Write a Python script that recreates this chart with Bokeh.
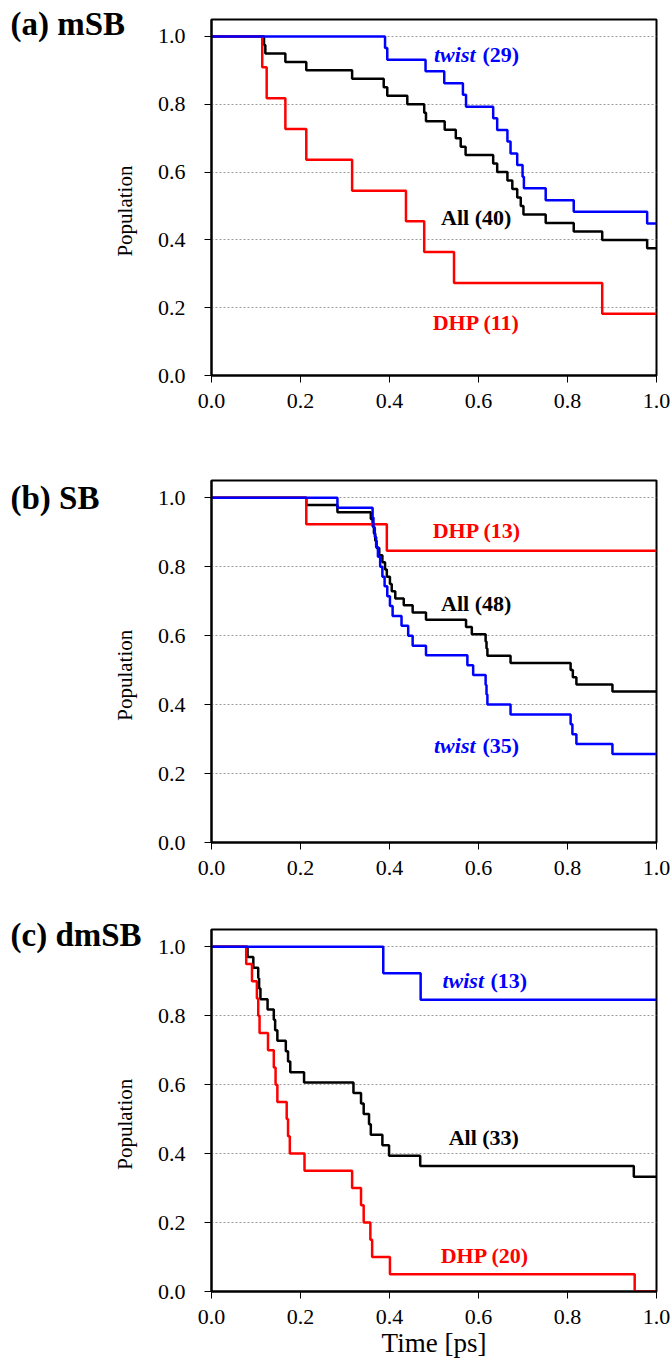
import math
from bokeh.plotting import figure
from bokeh.models import FixedTicker, PrintfTickFormatter, Label, Range1d
from bokeh.layouts import column, row
from bokeh.core.properties import value
from bokeh.embed import file_html
from bokeh.resources import INLINE

# ---------------- data ----------------
x_ticks = [0.0, 0.2, 0.4, 0.6, 0.8, 1.0]
y_ticks = [0.0, 0.2, 0.4, 0.6, 0.8, 1.0]
x_end = 1.0

# (a) mSB
a_all_t = [0, 0.118, 0.121, 0.166, 0.213, 0.316, 0.387, 0.395, 0.440, 0.478, 0.482, 0.524, 0.549,
           0.560, 0.571, 0.633, 0.642, 0.665, 0.676, 0.687, 0.695, 0.701, 0.751, 0.814, 0.878, 0.979]
a_all_p = [1.0, 0.975, 0.95, 0.925, 0.9, 0.875, 0.85, 0.825, 0.8, 0.775, 0.75, 0.725, 0.7,
           0.675, 0.65, 0.625, 0.6, 0.575, 0.55, 0.525, 0.5, 0.475, 0.45, 0.425, 0.4, 0.375]
a_dhp_t = [0, 0.114, 0.124, 0.166, 0.213, 0.316, 0.437, 0.478, 0.545, 0.878]
a_dhp_p = [1.0, 0.909, 0.818, 0.727, 0.636, 0.545, 0.455, 0.364, 0.273, 0.182]
a_twist_t = [0, 0.390, 0.395, 0.481, 0.523, 0.565, 0.572, 0.633, 0.642, 0.665, 0.672, 0.687,
             0.699, 0.702, 0.751, 0.814, 0.979]
a_twist_p = [1.0, 0.966, 0.931, 0.897, 0.862, 0.828, 0.793, 0.759, 0.724, 0.690, 0.655, 0.621,
             0.586, 0.552, 0.517, 0.483, 0.448]

# (b) SB
b_all_t = [0, 0.213, 0.283, 0.358, 0.362, 0.365, 0.368, 0.371, 0.377, 0.384, 0.390, 0.394, 0.401,
           0.405, 0.413, 0.432, 0.452, 0.482, 0.572, 0.585, 0.616, 0.618, 0.620, 0.672, 0.807,
           0.812, 0.820, 0.901]
b_all_p = [1.0, 0.979, 0.958, 0.938, 0.917, 0.896, 0.875, 0.854, 0.833, 0.813, 0.792, 0.771, 0.750,
           0.729, 0.708, 0.688, 0.667, 0.646, 0.625, 0.604, 0.583, 0.563, 0.542, 0.521, 0.500,
           0.479, 0.458, 0.438]
b_dhp_t = [0, 0.213, 0.394]
b_dhp_p = [1.0, 0.923, 0.846]
b_twist_t = [0, 0.283, 0.362, 0.364, 0.367, 0.370, 0.374, 0.379, 0.384, 0.389, 0.395, 0.401, 0.407,
             0.427, 0.442, 0.452, 0.482, 0.575, 0.588, 0.616, 0.618, 0.620, 0.672, 0.807, 0.811,
             0.820, 0.901]
b_twist_p = [1.0, 0.971, 0.943, 0.914, 0.886, 0.857, 0.829, 0.800, 0.771, 0.743, 0.714, 0.686,
             0.657, 0.629, 0.600, 0.571, 0.543, 0.514, 0.486, 0.457, 0.429, 0.400, 0.371, 0.343,
             0.314, 0.286, 0.257]

# (c) dmSB
c_all_t = [0, 0.081, 0.094, 0.105, 0.107, 0.110, 0.126, 0.140, 0.143, 0.148, 0.167, 0.172, 0.177,
           0.208, 0.319, 0.336, 0.342, 0.354, 0.358, 0.384, 0.399, 0.469, 0.949]
c_all_p = [1.0, 0.970, 0.939, 0.909, 0.879, 0.848, 0.818, 0.788, 0.758, 0.727, 0.697, 0.667, 0.636,
           0.606, 0.576, 0.545, 0.515, 0.485, 0.455, 0.424, 0.394, 0.364, 0.333]
c_dhp_t = [0, 0.078, 0.091, 0.102, 0.105, 0.108, 0.127, 0.140, 0.144, 0.148, 0.169, 0.172, 0.176,
           0.209, 0.316, 0.336, 0.342, 0.357, 0.361, 0.401, 0.951]
c_dhp_p = [1.0, 0.95, 0.9, 0.85, 0.8, 0.75, 0.7, 0.65, 0.6, 0.55, 0.5, 0.45, 0.4, 0.35, 0.3, 0.25,
           0.2, 0.15, 0.1, 0.05, 0.0]
c_twist_t = [0, 0.386, 0.470]
c_twist_p = [1.0, 0.923, 0.846]

panel_titles = ["(a) mSB", "(b) SB", "(c) dmSB"]
all_names = ["All (40)", "All (48)", "All (33)"]
dhp_names = ["DHP (11)", "DHP (13)", "DHP (20)"]
twist_word = "twist"
twist_counts = ["(29)", "(35)", "(13)"]
y_label = "Population"
x_label = "Time [ps]"

# ---------------- styling / layout ----------------
FONT = "'Liberation Serif', serif"
BLUE = "#0000ff"
RED = "#ff0000"
BLACK = "#000000"
Y_MAX = 1.05
LEFT_W = 148
MAIN_W = 524
TOTAL_H = 1369
# (height, border top, border bottom) of each panel figure
geo = [(440, 19, 65), (450, 40, 48), (479, 39, 78)]
title_y = [1.037, 1.0, 1.033]     # in panel data units
ylabel_y = 0.485


def steps(t, p):
    return list(t) + [x_end], list(p) + [p[-1]]


def make_panel(height, top, bottom, series, labels, show_xlabel):
    p = figure(width=MAIN_W, height=height, output_backend="svg", toolbar_location=None,
               title=None,
               x_range=Range1d(0, 1.0), y_range=Range1d(0, Y_MAX),
               min_border_left=211 - LEFT_W, min_border_right=16,
               min_border_top=top, min_border_bottom=bottom)
    p.background_fill_color = "white"
    p.border_fill_color = "white"
    p.outline_line_color = "black"
    p.outline_line_width = 2
    p.xgrid.grid_line_color = None
    p.ygrid.ticker = FixedTicker(ticks=y_ticks)
    p.ygrid.grid_line_color = "#9a9a9a"
    p.ygrid.grid_line_dash = "2 2"
    p.ygrid.grid_line_width = 1

    for ax, tk in ((p.xaxis, x_ticks), (p.yaxis, y_ticks)):
        ax.ticker = FixedTicker(ticks=tk)
        ax.formatter = PrintfTickFormatter(format="%.1f")
        ax.axis_line_color = "black"
        ax.axis_line_width = 2
        ax.major_tick_line_color = "black"
        ax.major_tick_line_width = 1
        ax.major_tick_in = 0
        ax.major_tick_out = 7
        ax.minor_tick_line_color = None
        ax.major_label_text_font = FONT
        ax.major_label_text_font_size = "22px"
        ax.major_label_text_color = "black"
    p.xaxis.major_label_standoff = 11
    p.yaxis.major_label_standoff = 19
    if show_xlabel:
        p.xaxis.axis_label = x_label
        p.xaxis.axis_label_text_font = FONT
        p.xaxis.axis_label_text_font_size = "27px"
        p.xaxis.axis_label_text_font_style = "normal"
        p.xaxis.axis_label_text_color = "black"
        p.xaxis.axis_label_standoff = 1

    for (t, v, col) in series:
        xs, ys = steps(t, v)
        p.step(xs, ys, mode="after", line_color=col, line_width=2.5)

    for (lx, ly, txt, col, style) in labels:
        p.add_layout(Label(x=lx, y=ly, text=txt, text_align="left", text_baseline="middle",
                           text_font=FONT, text_font_size="22px", text_font_style=style,
                           text_color=col))
    return p


pa = make_panel(*geo[0],
                [(a_all_t, a_all_p, BLACK), (a_dhp_t, a_dhp_p, RED), (a_twist_t, a_twist_p, BLUE)],
                [(0.500, 0.948, twist_word, BLUE, "bold italic"),
                 (0.609, 0.948, twist_counts[0], BLUE, "bold"),
                 (0.516, 0.466, all_names[0], BLACK, "bold"),
                 (0.497, 0.156, dhp_names[0], RED, "bold")], False)

pb = make_panel(*geo[1],
                [(b_all_t, b_all_p, BLACK), (b_dhp_t, b_dhp_p, RED), (b_twist_t, b_twist_p, BLUE)],
                [(0.497, 0.905, dhp_names[1], RED, "bold"),
                 (0.516, 0.693, all_names[1], BLACK, "bold"),
                 (0.500, 0.281, twist_word, BLUE, "bold italic"),
                 (0.609, 0.281, twist_counts[1], BLUE, "bold")], False)

pc = make_panel(*geo[2],
                [(c_all_t, c_all_p, BLACK), (c_dhp_t, c_dhp_p, RED), (c_twist_t, c_twist_p, BLUE)],
                [(0.519, 0.903, twist_word, BLUE, "bold italic"),
                 (0.627, 0.903, twist_counts[2], BLUE, "bold"),
                 (0.533, 0.448, all_names[2], BLACK, "bold"),
                 (0.515, 0.105, dhp_names[2], RED, "bold")], True)

# one tall side strip holding the panel titles and the y-axis titles
side = figure(width=LEFT_W, height=TOTAL_H, output_backend="svg", toolbar_location=None,
              x_axis_type=None, y_axis_type=None, title=None,
              x_range=Range1d(0, LEFT_W), y_range=Range1d(TOTAL_H, 0),
              min_border=0, min_border_left=0, min_border_right=0,
              min_border_top=0, min_border_bottom=0)
side.outline_line_color = None
side.xgrid.visible = False
side.ygrid.visible = False

t_y, p_y = [], []
offset = 0
for (h, top, bot), ty in zip(geo, title_y):
    per = (h - top - bot) / Y_MAX
    t_y.append(offset + top + (Y_MAX - ty) * per)
    p_y.append(offset + top + (Y_MAX - ylabel_y) * per)
    offset += h

side.text(x=[10] * 3, y=t_y, text=panel_titles, text_font=value(FONT), text_font_size="33px",
          text_font_style="bold", text_align="left", text_baseline="middle", text_color="black")
side.text(x=[124] * 3, y=p_y, text=[y_label] * 3, angle=math.pi / 2, text_font=value(FONT),
          text_font_size="21px", text_align="center", text_baseline="middle", text_color="black")

layout = row(side, column(pa, pb, pc, spacing=0), spacing=0)
open("out.html", "w").write(file_html(layout, INLINE))
